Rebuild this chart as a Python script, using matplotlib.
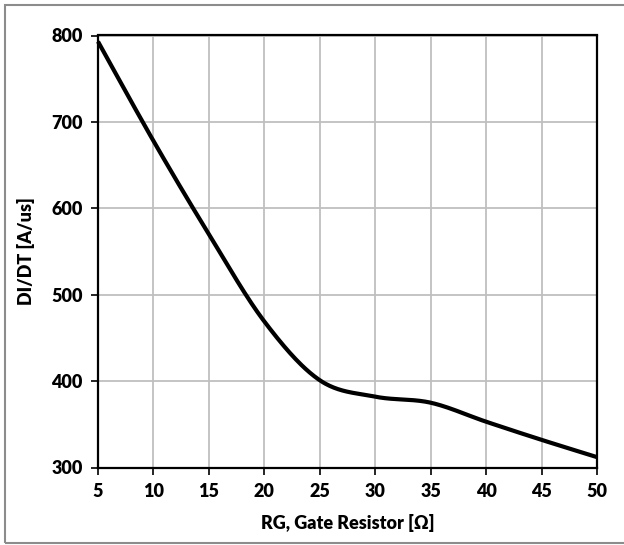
import numpy as np
import matplotlib
matplotlib.use("Agg")
import matplotlib.pyplot as plt
from matplotlib.patches import Rectangle

# Data
rg_ohm = [5, 10, 15, 20, 25, 30, 35, 40, 45, 50]
didt = [793, 678, 570, 469, 401, 382, 375, 353, 332, 312]
x_ticks = [5, 10, 15, 20, 25, 30, 35, 40, 45, 50]
y_ticks = [300, 400, 500, 600, 700, 800]

def smooth(xs, ys, n=40):
    """Excel-like smoothed line (Catmull-Rom as cubic Bezier)."""
    x = np.asarray(xs, float)
    y = np.asarray(ys, float)
    px = np.concatenate([[x[0]], x, [x[-1]]])
    py = np.concatenate([[y[0]], y, [y[-1]]])
    ox, oy = [], []
    t = np.linspace(0, 1, n)
    for i in range(1, len(px) - 2):
        p0 = np.array([px[i], py[i]])
        p3 = np.array([px[i + 1], py[i + 1]])
        c1 = p0 + (np.array([px[i + 1], py[i + 1]]) - np.array([px[i - 1], py[i - 1]])) / 6
        c2 = p3 - (np.array([px[i + 2], py[i + 2]]) - np.array([px[i], py[i]])) / 6
        b = ((1 - t) ** 3)[:, None] * p0 + (3 * (1 - t) ** 2 * t)[:, None] * c1 \
            + (3 * (1 - t) * t ** 2)[:, None] * c2 + (t ** 3)[:, None] * p3
        ox.extend(b[:, 0]); oy.extend(b[:, 1])
    return ox, oy

plt.rcParams['font.family'] = ['Lato', 'DejaVu Sans']
plt.rcParams['font.weight'] = 'bold'

fig = plt.figure(figsize=(6.24, 5.45), dpi=100)
ax = fig.add_axes([98 / 624, 1 - 467.5 / 545, (597 - 98) / 624, (467.5 - 35.5) / 545])

sx, sy = smooth(rg_ohm, didt)
ax.plot(sx, sy, color='black', lw=3.0, solid_capstyle='butt', zorder=3, clip_on=False)

ax.set_xlim(5, 50)
ax.set_ylim(300, 800)
ax.set_xticks(x_ticks)
ax.set_yticks(y_ticks)
ax.grid(True, color='#BFBFBF', lw=1.3)
ax.set_axisbelow(True)
for s in ax.spines.values():
    s.set_color('black')
    s.set_linewidth(1.6)
ax.tick_params(axis='both', direction='out', length=5, width=1.2, color='black',
               labelsize=13, pad=6)
for lab in ax.get_xticklabels() + ax.get_yticklabels():
    lab.set_fontweight('heavy')
ax.set_xlabel('RG, Gate Resistor [Ω]', fontsize=13, fontweight='heavy', labelpad=10)
ax.set_ylabel('DI/DT [A/us]', fontsize=13, fontweight='heavy', labelpad=12)

fig.patches.append(Rectangle((5 / 624, 1 - 543 / 545), 1.0, 538 / 545,
                             transform=fig.transFigure, fill=False,
                             edgecolor='#8C8C8C', lw=1.5, clip_on=False))

fig.savefig('out.png', dpi=100)
